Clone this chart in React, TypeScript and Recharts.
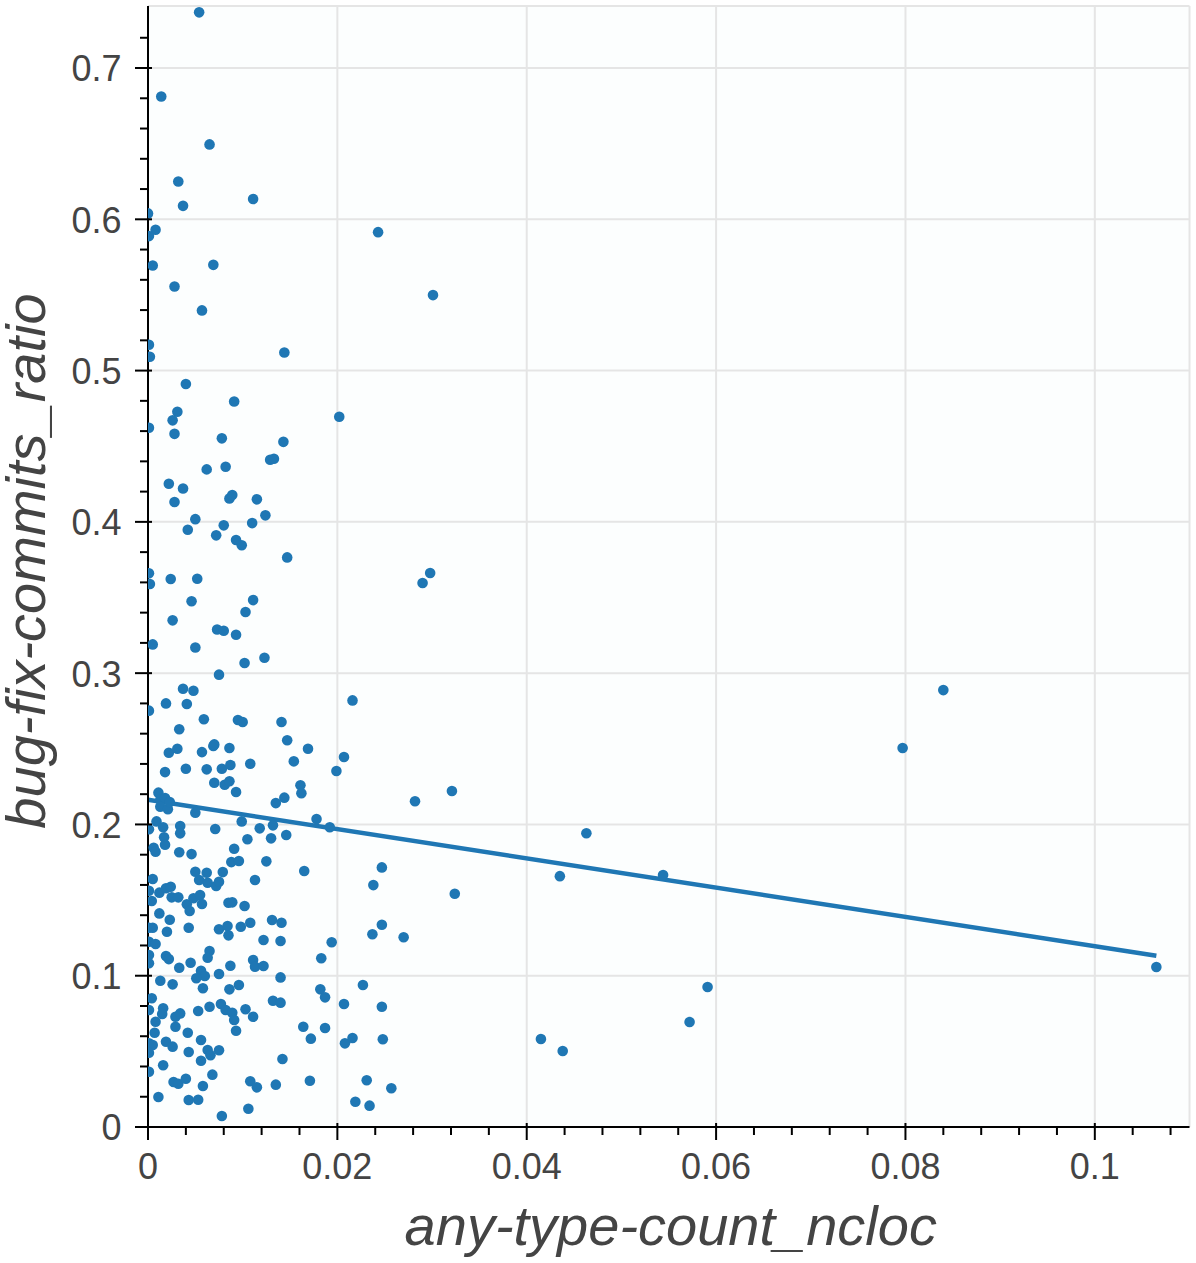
import React from 'react';
import { ScatterChart, Scatter, XAxis, YAxis, CartesianGrid, ReferenceLine, Label } from 'recharts';

// any-type-count_ncloc (x) and bug-fix-commits_ratio (y), one entry per project
const anyTypeCountNcloc = [
  0.0054, 0.0014, 0.0065, 0.0032, 0.0037, 0.0111, 0.0000, 0.0008, 0.0001, 0.0243,
  0.0005, 0.0069, 0.0028, 0.0057, 0.0001, 0.0002, 0.0144, 0.0301,
  0.0040, 0.0091, 0.0031, 0.0026, 0.0001, 0.0028, 0.0202, 0.0078, 0.0143, 0.0129,
  0.0133, 0.0062, 0.0082, 0.0022, 0.0037, 0.0028, 0.0086, 0.0089, 0.0115, 0.0124,
  0.0050, 0.0042, 0.0080, 0.0110, 0.0072, 0.0093, 0.0099, 0.0147, 0.0001, 0.0002,
  0.0024, 0.0052, 0.0046, 0.0111, 0.0103, 0.0026, 0.0290, 0.0298,
  0.0073, 0.0080, 0.0093, 0.0005, 0.0050, 0.0123, 0.0102, 0.0075, 0.0037, 0.0048,
  0.0019, 0.0041, 0.0001, 0.0059, 0.0095, 0.0100, 0.0141, 0.0033, 0.0147, 0.0022,
  0.0031, 0.0057, 0.0069, 0.0070, 0.0086, 0.0154, 0.0108, 0.0018, 0.0040, 0.0062,
  0.0078, 0.0087, 0.0070, 0.0081, 0.0086, 0.0093, 0.0161, 0.0162, 0.0144, 0.0135,
  0.0011, 0.0013, 0.0018, 0.0013, 0.0021, 0.0023, 0.0050, 0.0009, 0.0001, 0.0016,
  0.0034, 0.0034, 0.0017, 0.0018, 0.0071, 0.0099, 0.0118, 0.0132, 0.0130, 0.0146,
  0.0105, 0.0006, 0.0008, 0.0033, 0.0046, 0.0091, 0.0088, 0.0096, 0.0125, 0.0216,
  0.0169, 0.0207, 0.0199, 0.0282, 0.0321, 0.0178, 0.0192, 0.0247, 0.0463, 0.0840,
  0.0797,
  0.0005, 0.0050, 0.0062, 0.0079, 0.0054, 0.0063, 0.0072, 0.0075, 0.0113, 0.0001,
  0.0012, 0.0019, 0.0024, 0.0025, 0.0032, 0.0004, 0.0041, 0.0044, 0.0048, 0.0055,
  0.0057, 0.0085, 0.0089, 0.0102, 0.0012, 0.0023, 0.0001, 0.0005, 0.0020, 0.0043,
  0.0075, 0.0084, 0.0085, 0.0098, 0.0108, 0.0131, 0.0141, 0.0122, 0.0140, 0.0001,
  0.0008, 0.0065, 0.0063, 0.0019, 0.0022, 0.0001, 0.0001, 0.0033, 0.0045, 0.0056,
  0.0060, 0.0051, 0.0058, 0.0075, 0.0087, 0.0111, 0.0113, 0.0122, 0.0140, 0.0013,
  0.0026, 0.0086, 0.0096, 0.0004, 0.0001, 0.0008, 0.0016, 0.0015, 0.0029, 0.0034,
  0.0029, 0.0053, 0.0065, 0.0077, 0.0082, 0.0089, 0.0091, 0.0103, 0.0111, 0.0132,
  0.0140, 0.0007, 0.0001, 0.0005, 0.0001, 0.0019, 0.0026, 0.0042, 0.0056, 0.0043,
  0.0063, 0.0066, 0.0075, 0.0056, 0.0093, 0.0001, 0.0016, 0.0068, 0.0027, 0.0032,
  0.0040, 0.0058, 0.0108, 0.0115, 0.0135, 0.0142, 0.0011, 0.0043, 0.0053, 0.0106,
  0.0078, 0.0165, 0.0238, 0.0324, 0.0194, 0.0183, 0.0237, 0.0247, 0.0270, 0.0182,
  0.0187, 0.0227, 0.0207, 0.0247, 0.0164, 0.0187, 0.0172, 0.0208, 0.0216, 0.0248,
  0.0171, 0.0231, 0.0257, 0.0219, 0.0234, 0.0435, 0.0544, 0.1065, 0.0591, 0.0572,
  0.0415, 0.0438,
];

const bugFixCommitsRatio = [
  0.7368, 0.6812, 0.6495, 0.6250, 0.6089, 0.6134, 0.6039, 0.5931, 0.5889, 0.5915,
  0.5695, 0.5699, 0.5556, 0.5398, 0.5171, 0.5091, 0.5120, 0.5499,
  0.4911, 0.4796, 0.4728, 0.4671, 0.4622, 0.4582, 0.4695, 0.4552, 0.4529, 0.4411,
  0.4417, 0.4347, 0.4364, 0.4252, 0.4221, 0.4131, 0.4155, 0.4177, 0.4149, 0.4043,
  0.4018, 0.3948, 0.3977, 0.3992, 0.3911, 0.3880, 0.3845, 0.3765, 0.3660, 0.3589,
  0.3622, 0.3624, 0.3475, 0.3483, 0.3404, 0.3349, 0.3596, 0.3662,
  0.3289, 0.3280, 0.3254, 0.3190, 0.3170, 0.3102, 0.3067, 0.2990, 0.2897, 0.2884,
  0.2800, 0.2796, 0.2752, 0.2695, 0.2690, 0.2677, 0.2677, 0.2629, 0.2556, 0.2474,
  0.2500, 0.2478, 0.2518, 0.2529, 0.2505, 0.2417, 0.2401, 0.2346, 0.2368, 0.2364,
  0.2368, 0.2393, 0.2276, 0.2262, 0.2285, 0.2214, 0.2259, 0.2206, 0.2177, 0.2141,
  0.2210, 0.2163, 0.2175, 0.2117, 0.2100, 0.2148, 0.2077, 0.2020, 0.1968, 0.1981,
  0.1989, 0.1941, 0.1915, 0.1866, 0.1970, 0.2020, 0.1974, 0.1994, 0.1908, 0.1930,
  0.1902, 0.1846, 0.1820, 0.1816, 0.1804, 0.1839, 0.1751, 0.1758, 0.1756, 0.2820,
  0.2500, 0.2446, 0.2353, 0.2153, 0.2221, 0.2036, 0.1981, 0.1716, 0.1942, 0.2888,
  0.2505,
  0.1639, 0.1687, 0.1681, 0.1685, 0.1633, 0.1615, 0.1593, 0.1621, 0.1633, 0.1562,
  0.1549, 0.1578, 0.1588, 0.1518, 0.1518, 0.1494, 0.1472, 0.1428, 0.1512, 0.1533,
  0.1474, 0.1482, 0.1485, 0.1461, 0.1412, 0.1370, 0.1317, 0.1317, 0.1291, 0.1317,
  0.1307, 0.1328, 0.1267, 0.1324, 0.1350, 0.1368, 0.1350, 0.1236, 0.1229, 0.1225,
  0.1210, 0.1163, 0.1119, 0.1130, 0.1110, 0.1137, 0.1082, 0.1053, 0.1086, 0.1033,
  0.0998, 0.0983, 0.0917, 0.1011, 0.1066, 0.1104, 0.1059, 0.1064, 0.0989, 0.0967,
  0.0943, 0.0910, 0.0939, 0.0851, 0.0773, 0.0696, 0.0785, 0.0747, 0.0729, 0.0751,
  0.0663, 0.0767, 0.0795, 0.0813, 0.0773, 0.0755, 0.0707, 0.0778, 0.0729, 0.0835,
  0.0822, 0.0623, 0.0553, 0.0542, 0.0491, 0.0564, 0.0531, 0.0623, 0.0575, 0.0496,
  0.0509, 0.0474, 0.0507, 0.0438, 0.0636, 0.0365, 0.0408, 0.0346, 0.0297, 0.0286,
  0.0319, 0.0271, 0.0302, 0.0262, 0.0280, 0.0449, 0.0198, 0.0178, 0.0180, 0.0121,
  0.0073, 0.1692, 0.1599, 0.1542, 0.1221, 0.1115, 0.1274, 0.1337, 0.1254, 0.0910,
  0.0857, 0.0939, 0.0813, 0.0795, 0.0663, 0.0654, 0.0584, 0.0553, 0.0588, 0.0580,
  0.0306, 0.0309, 0.0256, 0.0167, 0.0141, 0.1658, 0.1665, 0.1058, 0.0925, 0.0694,
  0.0582, 0.0502,
];

// regression line end points
const trendX = [0, 0.1065];
const trendY = [0.2163, 0.1132];

// axes
const xDomain = [0, 0.11];
const yDomain = [0, 0.741];
const xMajorTicks = [0, 0.02, 0.04, 0.06, 0.08, 0.1];
const xTickLabels = ['0', '0.02', '0.04', '0.06', '0.08', '0.1'];
const yMajorTicks = [0, 0.1, 0.2, 0.3, 0.4, 0.5, 0.6, 0.7];
const yTickLabels = ['0', '0.1', '0.2', '0.3', '0.4', '0.5', '0.6', '0.7'];
const xAllTicks = Array.from({ length: 28 }, (_, i) => +(i * 0.004).toFixed(3));
const yAllTicks = Array.from({ length: 37 }, (_, i) => +(i * 0.02).toFixed(2));

const xLabel = 'any-type-count_ncloc';
const yLabel = 'bug-fix-commits_ratio';

const BLUE = '#1f77b4';
const TEXT = '#444444';
const FONT = '"Liberation Sans", Arial, Helvetica, sans-serif';

const points = anyTypeCountNcloc.map((x, i) => ({ x, y: bugFixCommitsRatio[i] }));

const findIdx = (arr: number[], v: number) => arr.findIndex((t) => Math.abs(t - v) < 1e-9);

const XTick = (props: any) => {
  const { x, y, payload } = props;
  const mi = findIdx(xMajorTicks, payload.value);
  const major = mi >= 0;
  return (
    <g>
      <line x1={x} x2={x} y1={major ? y - 4 : y} y2={y + (major ? 13 : 8)} stroke="#000" strokeWidth={2} />
      {major && (
        <text x={x} y={y + 52} textAnchor="middle" fontSize={36} fill={TEXT} fontFamily={FONT}>
          {xTickLabels[mi]}
        </text>
      )}
    </g>
  );
};

const YTick = (props: any) => {
  const { x, y, payload } = props;
  const mi = findIdx(yMajorTicks, payload.value);
  const major = mi >= 0;
  return (
    <g>
      <line x1={major ? x + 4 : x} x2={x - (major ? 13 : 8)} y1={y} y2={y} stroke="#000" strokeWidth={2} />
      {major && (
        <text x={x - 26.5} y={y + 13.4} textAnchor="end" fontSize={36} fill={TEXT} fontFamily={FONT}>
          {yTickLabels[mi]}
        </text>
      )}
    </g>
  );
};

const Dot = (props: any) => <circle cx={props.cx} cy={props.cy} r={5.3} fill={BLUE} />;

export default function App() {
  return (
    <div style={{ position: 'absolute', left: 0, top: 0, background: '#fff' }}>
      <ScatterChart width={1196} height={1263} margin={{ top: 6, right: 6.5, bottom: 0, left: 0 }}>
        <CartesianGrid
          fill="#fcfefe"
          fillOpacity={1}
          stroke="#e5e5e5"
          strokeWidth={2}
          verticalValues={[...xMajorTicks.slice(1), xDomain[1]]}
          horizontalValues={[...yMajorTicks.slice(1), yDomain[1]]}
        />
        <XAxis
          type="number"
          dataKey="x"
          domain={xDomain}
          allowDataOverflow
          ticks={xAllTicks}
          interval={0}
          tickSize={0}
          tickMargin={0}
          tickLine={false}
          tick={<XTick />}
          axisLine={{ stroke: '#000', strokeWidth: 2 }}
          height={136}
        >
          <Label
            content={(p: any) => {
              const vb = p.viewBox;
              return (
                <text
                  x={vb.x + vb.width / 2 + 2}
                  y={vb.y + 118}
                  textAnchor="middle"
                  fontSize={56}
                  fontStyle="italic"
                  fill={TEXT}
                  fontFamily={FONT}
                >
                  {xLabel}
                </text>
              );
            }}
          />
        </XAxis>
        <YAxis
          type="number"
          dataKey="y"
          domain={yDomain}
          allowDataOverflow
          ticks={yAllTicks}
          interval={0}
          tickSize={0}
          tickMargin={0}
          tickLine={false}
          tick={<YTick />}
          axisLine={{ stroke: '#000', strokeWidth: 2 }}
          width={148}
        >
          <Label
            content={(p: any) => {
              const vb = p.viewBox;
              const cx = 45;
              const cy = vb.y + vb.height / 2 - 5.5;
              return (
                <text
                  x={cx}
                  y={cy}
                  transform={`rotate(-90, ${cx}, ${cy})`}
                  textAnchor="middle"
                  fontSize={56}
                  fontStyle="italic"
                  fill={TEXT}
                  fontFamily={FONT}
                >
                  {yLabel}
                </text>
              );
            }}
          />
        </YAxis>
        <Scatter data={points} fill={BLUE} shape={<Dot />} isAnimationActive={false} />
        <ReferenceLine
          segment={[
            { x: trendX[0], y: trendY[0] },
            { x: trendX[1], y: trendY[1] },
          ]}
          stroke={BLUE}
          strokeWidth={4.5}
        />
      </ScatterChart>
    </div>
  );
}
